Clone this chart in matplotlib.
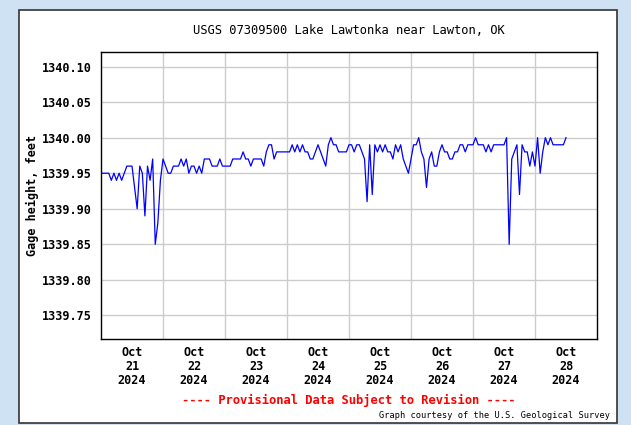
import numpy as np
import matplotlib
matplotlib.use('Agg')
import matplotlib.pyplot as plt
from matplotlib.patches import Rectangle

# Hourly gage height readings (ft), starting Oct 21 2024 00:00
stage = [
    1339.95, 1339.95, 1339.95, 1339.95, 1339.94, 1339.95, 1339.94, 1339.95, 1339.94, 1339.95,
    1339.96, 1339.96, 1339.96, 1339.93, 1339.90, 1339.96, 1339.95, 1339.89, 1339.96, 1339.94,
    1339.97, 1339.85, 1339.88, 1339.94, 1339.97, 1339.96, 1339.95, 1339.95, 1339.96, 1339.96,
    1339.96, 1339.97, 1339.96, 1339.97, 1339.95, 1339.96, 1339.96, 1339.95, 1339.96, 1339.95,
    1339.97, 1339.97, 1339.97, 1339.96, 1339.96, 1339.96, 1339.97, 1339.96, 1339.96, 1339.96,
    1339.96, 1339.97, 1339.97, 1339.97, 1339.97, 1339.98, 1339.97, 1339.97, 1339.96, 1339.97,
    1339.97, 1339.97, 1339.97, 1339.96, 1339.98, 1339.99, 1339.99, 1339.97, 1339.98, 1339.98,
    1339.98, 1339.98, 1339.98, 1339.98, 1339.99, 1339.98, 1339.99, 1339.98, 1339.99, 1339.98,
    1339.98, 1339.97, 1339.97, 1339.98, 1339.99, 1339.98, 1339.97, 1339.96, 1339.99, 1340.00,
    1339.99, 1339.99, 1339.98, 1339.98, 1339.98, 1339.98, 1339.99, 1339.99, 1339.98, 1339.99,
    1339.99, 1339.98, 1339.97, 1339.91, 1339.99, 1339.92, 1339.99, 1339.98, 1339.99, 1339.98,
    1339.99, 1339.98, 1339.98, 1339.97, 1339.99, 1339.98, 1339.99, 1339.97, 1339.96, 1339.95,
    1339.97, 1339.99, 1339.99, 1340.00, 1339.98, 1339.97, 1339.93, 1339.97, 1339.98, 1339.96,
    1339.96, 1339.98, 1339.99, 1339.98, 1339.98, 1339.97, 1339.97, 1339.98, 1339.98, 1339.99,
    1339.99, 1339.98, 1339.99, 1339.99, 1339.99, 1340.00, 1339.99, 1339.99, 1339.99, 1339.98,
    1339.99, 1339.98, 1339.99, 1339.99, 1339.99, 1339.99, 1339.99, 1340.00, 1339.85, 1339.97,
    1339.98, 1339.99, 1339.92, 1339.99, 1339.98, 1339.98, 1339.96, 1339.98, 1339.96, 1340.00,
    1339.95, 1339.98, 1340.00, 1339.99, 1340.00, 1339.99, 1339.99, 1339.99, 1339.99, 1339.99,
    1340.00,
]
hours = np.arange(len(stage))

day_labels = ['Oct\n21\n2024', 'Oct\n22\n2024', 'Oct\n23\n2024', 'Oct\n24\n2024',
              'Oct\n25\n2024', 'Oct\n26\n2024', 'Oct\n27\n2024', 'Oct\n28\n2024']
y_ticks = [1339.75, 1339.80, 1339.85, 1339.90, 1339.95, 1340.00, 1340.05, 1340.10]

W, H = 631, 425
fig = plt.figure(figsize=(W / 100, H / 100), dpi=100, facecolor='#cfe2f4')

# white page panel behind the axes
fig.patches.append(Rectangle((19 / W, 1 - 423 / H), 598 / W, 413 / H, transform=fig.transFigure,
                             facecolor='white', edgecolor='#333333', linewidth=1.2, zorder=-5))

ax = fig.add_axes([101 / W, 1 - 339 / H, 496 / W, 287 / H])
ax.plot(hours / 24, stage, color='#0000ff', linewidth=0.9)

ax.set_xlim(0, 8)
ax.set_ylim(1339.7168, 1340.1205)

# gridlines at midnight, labels centred on each day
ax.set_xticks(np.arange(1, 8))
ax.set_xticklabels([])
ax.set_xticks(np.arange(8) + 0.5, minor=True)
ax.set_xticklabels(day_labels, minor=True, fontfamily='DejaVu Sans Mono',
                   fontweight='bold', fontsize=8.5, linespacing=1.12)
ax.set_yticks(y_ticks)
ax.set_yticklabels([f'{v:.2f}' for v in y_ticks], fontfamily='DejaVu Sans Mono',
                   fontweight='bold', fontsize=8.5)
ax.tick_params(which='both', length=0)
ax.tick_params(axis='y', pad=7)
ax.tick_params(axis='x', which='minor', pad=5)
ax.grid(True, which='major', color='#cccccc', linewidth=1)
for s in ax.spines.values():
    s.set_color('black')
    s.set_linewidth(1)

ax.set_ylabel('Gage height, feet', fontfamily='DejaVu Sans Mono', fontweight='bold',
              fontsize=8.5, labelpad=2)

fig.text(349 / W, 1 - 31 / H, 'USGS 07309500 Lake Lawtonka near Lawton, OK',
         ha='center', va='center', fontfamily='DejaVu Sans Mono', fontsize=8.7)
fig.text(349 / W, 1 - 400 / H, '---- Provisional Data Subject to Revision ----',
         ha='center', va='center', color='red', fontfamily='DejaVu Sans Mono',
         fontweight='bold', fontsize=8.7)
fig.text(610 / W, 1 - 415 / H, 'Graph courtesy of the U.S. Geological Survey',
         ha='right', va='center', fontfamily='DejaVu Sans Mono', fontsize=6.2)

fig.savefig('out.png', dpi=100, facecolor=fig.get_facecolor())
